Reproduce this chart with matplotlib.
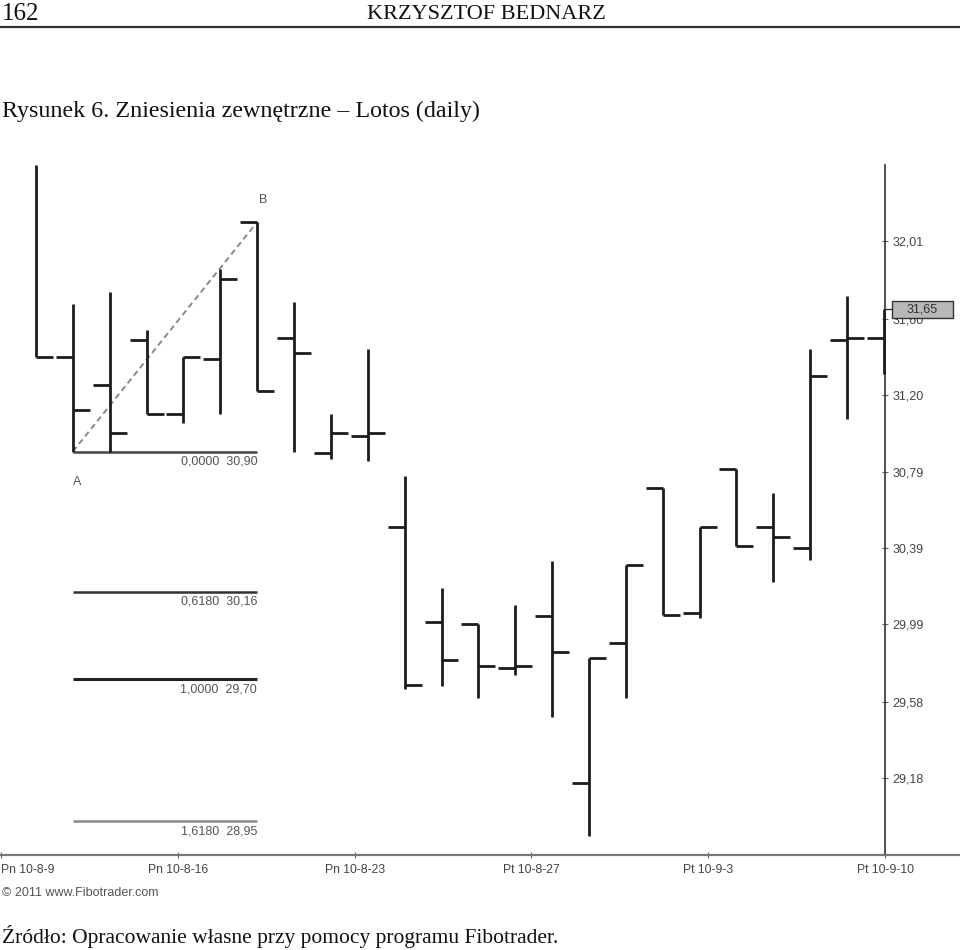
import numpy as np
import matplotlib
matplotlib.use("Agg")
import matplotlib.pyplot as plt
from matplotlib.patches import Rectangle
from matplotlib.lines import Line2D
import matplotlib.transforms as mtransforms

# ---------------- data ----------------
opens  = [np.nan, 31.40, 31.25, 31.49, 31.10, 31.39, 32.11, 31.50, 30.89, 30.98,
          30.50, 30.00, 29.99, 29.76, 30.03, 29.15, 29.89, 30.71, 30.05, 30.81,
          30.50, 30.39, 31.49, 31.50]
highs  = [32.41, 31.68, 31.74, 31.54, 31.40, 31.86, 32.11, 31.69, 31.10, 31.44,
          30.77, 30.18, 29.99, 30.09, 30.32, 29.81, 30.30, 30.71, 30.50, 30.81,
          30.68, 31.44, 31.72, 31.65]
lows   = [31.40, 30.90, 30.90, 31.10, 31.05, 31.10, 31.22, 30.90, 30.86, 30.85,
          29.65, 29.665, 29.60, 29.72, 29.50, 28.87, 29.60, 30.04, 30.02, 30.40,
          30.21, 30.33, 31.07, 31.31]
closes = [31.40, 31.12, 31.00, 31.10, 31.40, 31.81, 31.22, 31.42, 31.00, 31.00,
          29.67, 29.80, 29.77, 29.77, 29.84, 29.81, 30.30, 30.04, 30.50, 30.40,
          30.45, 31.30, 31.50, 31.65]

y_ticks = [32.01, 31.60, 31.20, 30.79, 30.39, 29.99, 29.58, 29.18]
y_tick_labels = ["32,01", "31,60", "31,20", "30,79", "30,39", "29,99", "29,58", "29,18"]

x_tick_pos = [-0.95, 3.85, 8.65, 13.43, 18.23, 23.03]
x_tick_labels = ["Pn 10-8-9", "Pn 10-8-16", "Pn 10-8-23", "Pt 10-8-27", "Pt 10-9-3", "Pt 10-9-10"]

# Fibonacci projection A -> B
point_a = (1, 30.90)
point_b = (6, 32.11)
fib_ratios = ["0,0000", "0,6180", "1,0000", "1,6180"]
fib_prices = [30.90, 30.16, 29.70, 28.95]
fib_labels = ["30,90", "30,16", "29,70", "28,95"]
last_price_label = "31,65"

# ---------------- figure ----------------
W, H = 960, 950
fig = plt.figure(figsize=(W / 100, H / 100), dpi=100)
plt.rcParams['font.family'] = ['Liberation Sans', 'DejaVu Sans']

def fx(px):
    return px / W

def fy(py):
    return 1 - py / H

serif = ['Liberation Serif', 'DejaVu Serif']
# Header
fig.text(fx(2), fy(20), "162", family=serif, fontsize=18, ha='left', va='baseline', color='#111')
fig.text(fx(486), fy(19), "KRZYSZTOF BEDNARZ", family=serif, fontsize=16, ha='center', va='baseline', color='#111')
fig.add_artist(Line2D([0, 1], [fy(27), fy(27)], transform=fig.transFigure, color='#333', lw=1.6))
# Title
fig.text(fx(2), fy(117), "Rysunek 6. Zniesienia zewnętrzne – Lotos (daily)", family=serif,
         fontsize=17.3, ha='left', va='baseline', color='#111')
# Footer
fig.text(fx(2), fy(943), "Źródło: Opracowanie własne przy pomocy programu Fibotrader.", family=serif,
         fontsize=15.5, ha='left', va='baseline', color='#111')
fig.text(fx(2), fy(893), "© 2011 www.Fibotrader.com", fontsize=9, ha='left', va='center', color='#555')

# Main axes
ax_left, ax_right, ax_top, ax_bottom = 0, 885, 165, 855
ax = fig.add_axes([fx(ax_left), fy(ax_bottom), fx(ax_right - ax_left), (ax_bottom - ax_top) / H])
ax.set_xlim(-0.976, 23.03)
ax.set_ylim(28.772, 32.411)
ax.set_facecolor('white')
for s in ['left', 'top']:
    ax.spines[s].set_visible(False)
ax.spines['right'].set_color('#333')
ax.spines['right'].set_linewidth(1.2)
ax.spines['bottom'].set_color('#777')
ax.spines['bottom'].set_linewidth(1.6)
# extend bottom line to full width
fig.add_artist(Line2D([fx(ax_right), 1], [fy(ax_bottom), fy(ax_bottom)], transform=fig.transFigure,
                      color='#777', lw=1.6))

ax.yaxis.tick_right()
ax.set_yticks(y_ticks)
ax.set_yticklabels(y_tick_labels)
ax.tick_params(axis='y', direction='inout', length=5, width=0.8, colors='#666', labelsize=9,
               labelcolor='#444', pad=3)
ax.set_xticks(x_tick_pos)
ax.set_xticklabels(x_tick_labels)
ax.tick_params(axis='x', direction='inout', length=5, width=0.8, colors='#666', labelsize=8.7,
               labelcolor='#444', pad=4)
ax.get_xticklabels()[0].set_horizontalalignment('left')

# OHLC bars
n = len(highs)
xs = np.arange(n)
tick_w = 0.46
bar_color = '#1c1c1c'
bar_lw = 2.0
ax.vlines(xs, lows, highs, color=bar_color, lw=bar_lw, zorder=3, clip_on=False)
o = np.array(opens, dtype=float)
mask = ~np.isnan(o)
ax.hlines(o[mask], xs[mask] - tick_w, xs[mask], color=bar_color, lw=bar_lw, zorder=3, clip_on=False)
ax.hlines(closes[:-1], xs[:-1], xs[:-1] + tick_w, color=bar_color, lw=bar_lw, zorder=3, clip_on=False)

# Fibonacci lines
fib_colors = ['#444', '#333', '#222', '#888']
fib_lw = [1.8, 1.8, 2.2, 1.8]
for r, p, lab, c, lw in zip(fib_ratios, fib_prices, fib_labels, fib_colors, fib_lw):
    ax.hlines(p, point_a[0], point_b[0], color=c, lw=lw, zorder=2)
    ax.annotate(f"{r}  {lab}", xy=(point_b[0], p), xytext=(0, -3), textcoords='offset points',
                ha='right', va='top', fontsize=9, color='#555')

# A-B dashed line
ax.plot([point_a[0], point_b[0]], [point_a[1], point_b[1]], color='#888', lw=1.4,
        ls=(0, (3, 2)), zorder=2)
ax.annotate("A", xy=point_a, xytext=(3, -22), textcoords='offset points', ha='center', va='center',
            fontsize=9, color='#555')
ax.annotate("B", xy=point_b, xytext=(4, 16), textcoords='offset points', ha='center', va='center',
            fontsize=9, color='#555')

# last price tag
blend = mtransforms.blended_transform_factory(fig.transFigure, ax.transData)
last = closes[-1]
half_h = 8.5 / 189.6
ax.add_artist(Line2D([fx(ax_right), fx(892)], [last, last], transform=blend, color='#333', lw=1.0,
                     clip_on=False, zorder=5))
rect = Rectangle((fx(892), last - half_h), fx(61), 2 * half_h, transform=blend, facecolor='#b8b8b8',
                 edgecolor='#333', lw=1.0, clip_on=False, zorder=6)
ax.add_artist(rect)
ax.text(fx(922.5), last, last_price_label, transform=blend, ha='center', va='center', fontsize=9,
        color='#333', zorder=7, clip_on=False)

fig.savefig("out.png", dpi=100, facecolor='white')
